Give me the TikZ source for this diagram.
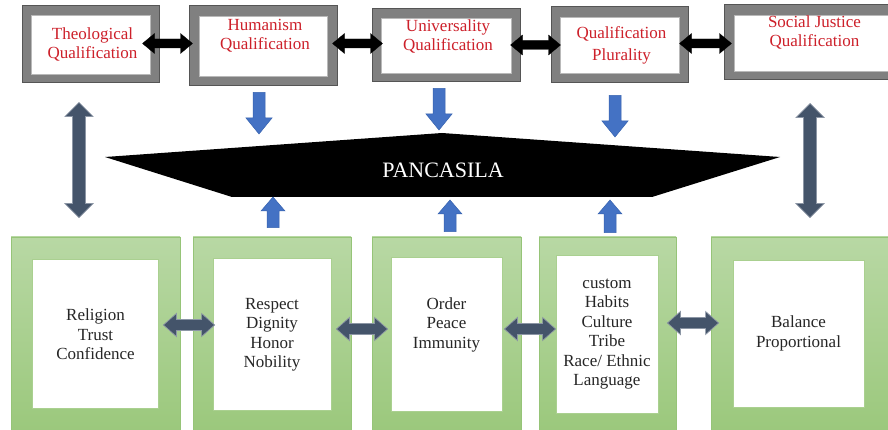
\documentclass[tikz,border=0pt]{standalone}
\usepackage{fontspec}
\setmainfont{Liberation Serif}
\usetikzlibrary{calc}
\definecolor{qred}{RGB}{205,32,42}
\definecolor{framegray}{RGB}{128,128,128}
\definecolor{framedark}{RGB}{85,85,85}
\definecolor{greentop}{RGB}{184,216,164}
\definecolor{greenbot}{RGB}{155,200,124}
\definecolor{greenedge}{RGB}{150,196,120}
\definecolor{greenline}{RGB}{170,208,144}
\definecolor{txtgray}{RGB}{38,38,38}
\definecolor{navyfill}{RGB}{68,84,106}
\definecolor{navyedge}{RGB}{140,150,165}
\definecolor{bluefill}{RGB}{68,114,196}
\definecolor{blueedge}{RGB}{55,98,175}
\tikzset{
  dblarrow/.style n args={3}{to path={
    -- ($(\tikztostart)!#3!(\tikztotarget)!#2!90:(\tikztotarget)$)
    -- ($(\tikztostart)!#3!(\tikztotarget)!#1!90:(\tikztotarget)$)
    -- ($(\tikztotarget)!#3!(\tikztostart)!#1!-90:(\tikztostart)$)
    -- ($(\tikztotarget)!#3!(\tikztostart)!#2!-90:(\tikztostart)$)
    -- (\tikztotarget)
    -- ($(\tikztotarget)!#3!(\tikztostart)!#2!90:(\tikztostart)$)
    -- ($(\tikztotarget)!#3!(\tikztostart)!#1!90:(\tikztostart)$)
    -- ($(\tikztostart)!#3!(\tikztotarget)!#1!-90:(\tikztotarget)$)
    -- ($(\tikztostart)!#3!(\tikztotarget)!#2!-90:(\tikztotarget)$)
    -- cycle}},
  sglarrow/.style n args={3}{to path={
    -- ($(\tikztostart)!#1!90:(\tikztotarget)$)
    -- ($(\tikztotarget)!#3!(\tikztostart)!#1!-90:(\tikztostart)$)
    -- ($(\tikztotarget)!#3!(\tikztostart)!#2!-90:(\tikztostart)$)
    -- (\tikztotarget)
    -- ($(\tikztotarget)!#3!(\tikztostart)!#2!90:(\tikztostart)$)
    -- ($(\tikztotarget)!#3!(\tikztostart)!#1!90:(\tikztostart)$)
    -- ($(\tikztostart)!#1!-90:(\tikztotarget)$)
    -- cycle}},
  grayframe/.style={draw=framedark, fill=framegray, line width=1pt, inner sep=0pt},
  whitein/.style={draw=gray!55, fill=white, line width=0.6pt, inner sep=0pt},
  greenframe/.style={draw=greenedge, top color=greentop, bottom color=greenbot, line width=0.8pt, inner sep=0pt},
  greenin/.style={draw=greenline, fill=white, line width=0.9pt, inner sep=0pt},
  redtxt/.style={text=qred, font=\fontsize{17}{19}\selectfont, align=center, inner sep=0pt},
  blktxt/.style={text=txtgray, font=\fontsize{17}{19.5}\selectfont, align=center, inner sep=0pt},
  blackarr/.style={fill=black, draw=black, line width=0.3pt, line join=miter},
  navyarr/.style={fill=navyfill, draw=navyedge, line width=0.7pt},
  bluearr/.style={fill=bluefill, draw=blueedge, line width=0.5pt},
}
\begin{document}
\begin{tikzpicture}[x=1pt,y=-1pt]
\useasboundingbox (0,0) rectangle (888,430);
\clip (0,0) rectangle (888,430);

% ---------- top qualification boxes ----------
\node[grayframe, minimum width=137pt, minimum height=77pt] (t1f) at (90.5,44.5) {};
\node[whitein, minimum width=119pt, minimum height=59pt] (t1i) at (t1f) {};
\node[redtxt] (t1) at (92.5,44) {Theological\\Qualification};

\node[grayframe, minimum width=148pt, minimum height=80pt] (t2f) at (263,46) {};
\node[whitein, minimum width=128pt, minimum height=60pt] (t2i) at (t2f) {};
\node[redtxt] (t2) at (265,35.5) {Humanism\\Qualification};

\node[grayframe, minimum width=148pt, minimum height=73pt] (t3f) at (446,45.5) {};
\node[whitein, minimum width=130pt, minimum height=55pt] (t3i) at (t3f) {};
\node[redtxt] (t3) at (448,36.5) {Universality\\Qualification};

\node[grayframe, minimum width=137pt, minimum height=76pt] (t4f) at (619.5,45) {};
\node[whitein, minimum width=119pt, minimum height=56pt] (t4i) at (t4f) {};
\node[redtxt, font=\fontsize{17}{22}\selectfont] (t4) at (621.5,45.5) {Qualification\\Plurality};

\node[grayframe, minimum width=176pt, minimum height=75pt] (t5f) at (812,42.5) {};
\node[whitein, minimum width=156pt, minimum height=56pt] (t5i) at (812,43) {};
\node[redtxt] (t5) at (814.5,32.7) {Social Justice\\Qualification};

% ---------- PANCASILA ----------
\coordinate (p1) at (105,157);
\coordinate (p2) at (442,133);
\coordinate (p3) at (780,157);
\coordinate (p4) at (652,197);
\coordinate (p5) at (232,197);
\fill[black] (p1) -- (p2) -- (p3) -- (p4) -- (p5) -- cycle;
\node[text=white, font=\fontsize{22}{22}\selectfont, inner sep=0pt] (pan) at (443,170) {PANCASILA};

% ---------- bottom green boxes ----------
\node[greenframe, minimum width=169pt, minimum height=195pt] (g1) at (95.5,334.5) {};
\node[greenin, minimum width=126pt, minimum height=149pt] (g1i) at (95,333.5) {};
\node[blktxt] (g1t) at (95.5,334.5) {Religion\\Trust\\Confidence};

\node[greenframe, minimum width=158pt, minimum height=195pt] (g2) at (272,334.5) {};
\node[greenin, minimum width=118pt, minimum height=152pt] (g2i) at (272,334) {};
\node[blktxt] (g2t) at (272,335) {Respect\\Dignity\\Honor\\Nobility};

\node[greenframe, minimum width=149pt, minimum height=195pt] (g3) at (446.5,334.5) {};
\node[greenin, minimum width=111pt, minimum height=154pt] (g3i) at (446.5,334) {};
\node[blktxt] (g3t) at (446.5,324.5) {Order\\Peace\\Immunity};

\node[greenframe, minimum width=137pt, minimum height=195pt] (g4) at (607.5,334.5) {};
\node[greenin, minimum width=102pt, minimum height=158pt] (g4i) at (607,334) {};
\node[blktxt] (g4t) at (607,334) {custom\\Habits\\Culture\\Tribe\\Race/ Ethnic\\Language};

\node[greenframe, minimum width=179pt, minimum height=195pt] (g5) at (800.5,334.5) {};
\node[greenin, minimum width=131pt, minimum height=147pt] (g5i) at (798.5,333.5) {};
\node[blktxt] (g5t) at (798.5,333.5) {Balance\\Proportional};

% ---------- arrow end points ----------
\coordinate (k1s) at ($(t1f.east)+(-17,-1)$);
\coordinate (k1e) at ($(t2f.west)+(4,-2.5)$);
\coordinate (k2s) at ($(t2f.east)+(-5,-2.5)$);
\coordinate (k2e) at ($(t3f.west)+(11,-2)$);
\coordinate (k3s) at ($(t3f.east)+(-10,-0.5)$);
\coordinate (k3e) at ($(t4f.west)+(10,0)$);
\coordinate (k4s) at ($(t4f.east)+(-9,-1.5)$);
\coordinate (k4e) at ($(t5f.west)+(8,1)$);

\coordinate (d1s) at ($(t2f.south)+(-4,6)$);
\coordinate (d1e) at ($(pan)+(-184,-36)$);
\coordinate (d2s) at ($(t3f.south)+(-7,6)$);
\coordinate (d2e) at ($(pan)+(-4,-40)$);
\coordinate (d3s) at ($(t4f.south)+(-4.5,12)$);
\coordinate (d3e) at ($(pan)+(172,-33)$);

\coordinate (u1s) at ($(g2.north)+(1,-9)$);
\coordinate (u1e) at ($(pan)+(-170,27)$);
\coordinate (u2s) at ($(g3.north)+(3.5,-5)$);
\coordinate (u2e) at ($(pan)+(7,30)$);
\coordinate (u3s) at ($(g4.north)+(2.5,-4)$);
\coordinate (u3e) at ($(pan)+(167,30)$);

\coordinate (v1s) at ($(t1f.south)+(-11.5,19)$);
\coordinate (v1e) at ($(g1.north)+(-16.5,-19)$);
\coordinate (v2s) at ($(t5f.south)+(-2,23)$);
\coordinate (v2e) at ($(g5.north)+(9.5,-19)$);

\coordinate (h1s) at ($(g1.east)+(-17,-9.5)$);
\coordinate (h1e) at ($(g2.west)+(22,-9.5)$);
\coordinate (h2s) at ($(g2.east)+(-15,-5.5)$);
\coordinate (h2e) at ($(g3.west)+(16,-5.5)$);
\coordinate (h3s) at ($(g3.east)+(-17,-5.5)$);
\coordinate (h3e) at ($(g4.west)+(17,-5.5)$);
\coordinate (h4s) at ($(g4.east)+(-9,-11.5)$);
\coordinate (h4e) at ($(g5.west)+(8,-11.5)$);

% ---------- arrows ----------
\filldraw[blackarr] (k1s) to[dblarrow={4.5pt}{10pt}{12pt}] (k1e);
\filldraw[blackarr] (k2s) to[dblarrow={4.5pt}{10pt}{12pt}] (k2e);
\filldraw[blackarr] (k3s) to[dblarrow={4.5pt}{10pt}{12pt}] (k3e);
\filldraw[blackarr] (k4s) to[dblarrow={4.5pt}{10pt}{12pt}] (k4e);

\filldraw[bluearr] (d1s) to[sglarrow={6pt}{13pt}{16pt}] (d1e);
\filldraw[bluearr] (d2s) to[sglarrow={6pt}{13pt}{16pt}] (d2e);
\filldraw[bluearr] (d3s) to[sglarrow={6pt}{13pt}{16pt}] (d3e);
\filldraw[bluearr] (u1s) to[sglarrow={6pt}{12pt}{14pt}] (u1e);
\filldraw[bluearr] (u2s) to[sglarrow={6pt}{12pt}{14pt}] (u2e);
\filldraw[bluearr] (u3s) to[sglarrow={6pt}{12pt}{14pt}] (u3e);

\filldraw[navyarr] (v1s) to[dblarrow={6.5pt}{14pt}{14pt}] (v1e);
\filldraw[navyarr] (v2s) to[dblarrow={6.5pt}{14pt}{14pt}] (v2e);

\filldraw[navyarr] (h1s) to[dblarrow={5.5pt}{11.5pt}{13pt}] (h1e);
\filldraw[navyarr] (h2s) to[dblarrow={5.5pt}{11.5pt}{13pt}] (h2e);
\filldraw[navyarr] (h3s) to[dblarrow={5.5pt}{11.5pt}{13pt}] (h3e);
\filldraw[navyarr] (h4s) to[dblarrow={5.5pt}{11.5pt}{13pt}] (h4e);
\end{tikzpicture}
\end{document}
